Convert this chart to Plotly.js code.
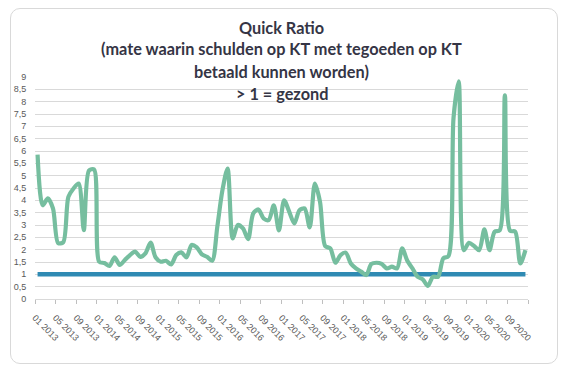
<!DOCTYPE html>
<html>
<head>
<meta charset="utf-8">
<script src="https://cdn.plot.ly/plotly-3.0.1.min.js"></script>
<style>
html,body{margin:0;padding:0;background:#fff;}
#wrap{position:relative;width:567px;height:373px;overflow:hidden;}
#chart{position:absolute;left:0;top:0;width:567px;height:373px;}
#frame{position:absolute;left:10px;top:8px;width:546px;height:354px;border:1px solid #d9d9d9;border-radius:10px;pointer-events:none;}
</style>
</head>
<body>
<div id="wrap"><div id="chart"></div><div id="frame"></div></div>
<script>
// Monthly quick ratio, 01 2013 .. 12 2020
const quickRatio = [
  5.85, 3.8, 4.08, 3.67, 2.27, 2.3, 4.14, 4.48, 4.68, 2.79, 5.2, 5.25,
  1.51, 1.46, 1.34, 1.69, 1.38, 1.58, 1.78, 1.92, 1.71, 1.85, 2.29, 1.68,
  1.51, 1.55, 1.4, 1.78, 1.89, 1.69, 2.19, 2.09, 1.81, 1.71, 1.55, 2.93,
  4.41, 5.29, 2.46, 3.0, 2.86, 2.43, 3.47, 3.63, 3.27, 3.2, 3.8, 2.78,
  4.0, 3.54, 3.06, 3.6, 3.67, 2.9, 4.68, 3.94, 2.15, 2.05, 1.47, 1.78,
  1.88, 1.44, 1.24, 1.11, 0.97, 1.42, 1.47, 1.42, 1.24, 1.31, 1.24, 2.05,
  1.55, 1.24, 0.9, 0.8, 0.53, 0.9, 0.9, 1.65, 1.74, 7.35, 8.82, 1.98,
  2.28, 2.15, 1.98, 2.82, 1.98, 2.73, 2.79, 8.26, 2.77, 2.73, 1.44, 1.98
];
const healthyLevel = quickRatio.map(() => 1);
const startYear = 2013;
const tickLabels = [];
for (let y = 0; y < 8; y++) { ["01","05","09"].forEach(m => tickLabels.push(m + " " + (startYear + y))); }
const monthIndex = quickRatio.map((_, i) => i);
const titleLines = ["Quick Ratio", "(mate waarin schulden op KT met tegoeden op KT", "betaald kunnen worden)", "> 1 = gezond"];

const tickVals = [];
const tickText = [];
for (let k = 0; k <= tickLabels.length; k++) { tickVals.push(k * 4 - 0.5); tickText.push(k < tickLabels.length ? tickLabels[k] : ""); }

const traces = [
  {x: monthIndex, y: healthyLevel, type: "scatter", mode: "lines",
   line: {color: "#2f8ab3", width: 4.5}, hoverinfo: "skip"},
  {x: monthIndex, y: quickRatio, type: "scatter", mode: "lines",
   line: {color: "#76be9f", width: 4.2, shape: "spline", smoothing: 0.8}, hoverinfo: "skip"}
];

const titleY = [27, 49, 71, 93];
const annotations = titleLines.map((t, i) => ({
  text: "<b>" + t + "</b>", xref: "paper", yref: "paper",
  x: 0.5, y: 1 + (77 - titleY[i]) / (299 - 77), xanchor: "center", yanchor: "middle",
  showarrow: false, font: {family: "Lato, 'Open Sans', sans-serif", size: 16.3, color: "#353545"}
}));

const layout = {
  width: 567, height: 373,
  margin: {l: 35, r: 39, t: 77, b: 74},
  paper_bgcolor: "rgba(0,0,0,0)", plot_bgcolor: "rgba(0,0,0,0)",
  showlegend: false,
  separators: ",.",
  annotations: annotations,
  xaxis: {
    range: [-0.5, 95.5], tickmode: "array", tickvals: tickVals, ticktext: tickText,
    tickangle: 45, showgrid: false, zeroline: false, showline: true, linecolor: "#d9d9d9", linewidth: 1,
    ticks: "outside", ticklen: 4, tickcolor: "#bfbfbf", ticklabelstandoff: 5,
    tickfont: {family: "'Liberation Sans', Arial, sans-serif", size: 9, color: "#595959"}
  },
  yaxis: {
    range: [0, 9], dtick: 0.5, tick0: 0, showgrid: true, gridcolor: "#d9d9d9", gridwidth: 1,
    zeroline: false, showline: false, ticks: "outside", ticklen: 6, tickcolor: "rgba(0,0,0,0)",
    tickfont: {family: "'Liberation Sans', Arial, sans-serif", size: 9, color: "#595959"}
  }
};
Plotly.newPlot("chart", traces, layout, {staticPlot: true, displayModeBar: false});
</script>
</body>
</html>
